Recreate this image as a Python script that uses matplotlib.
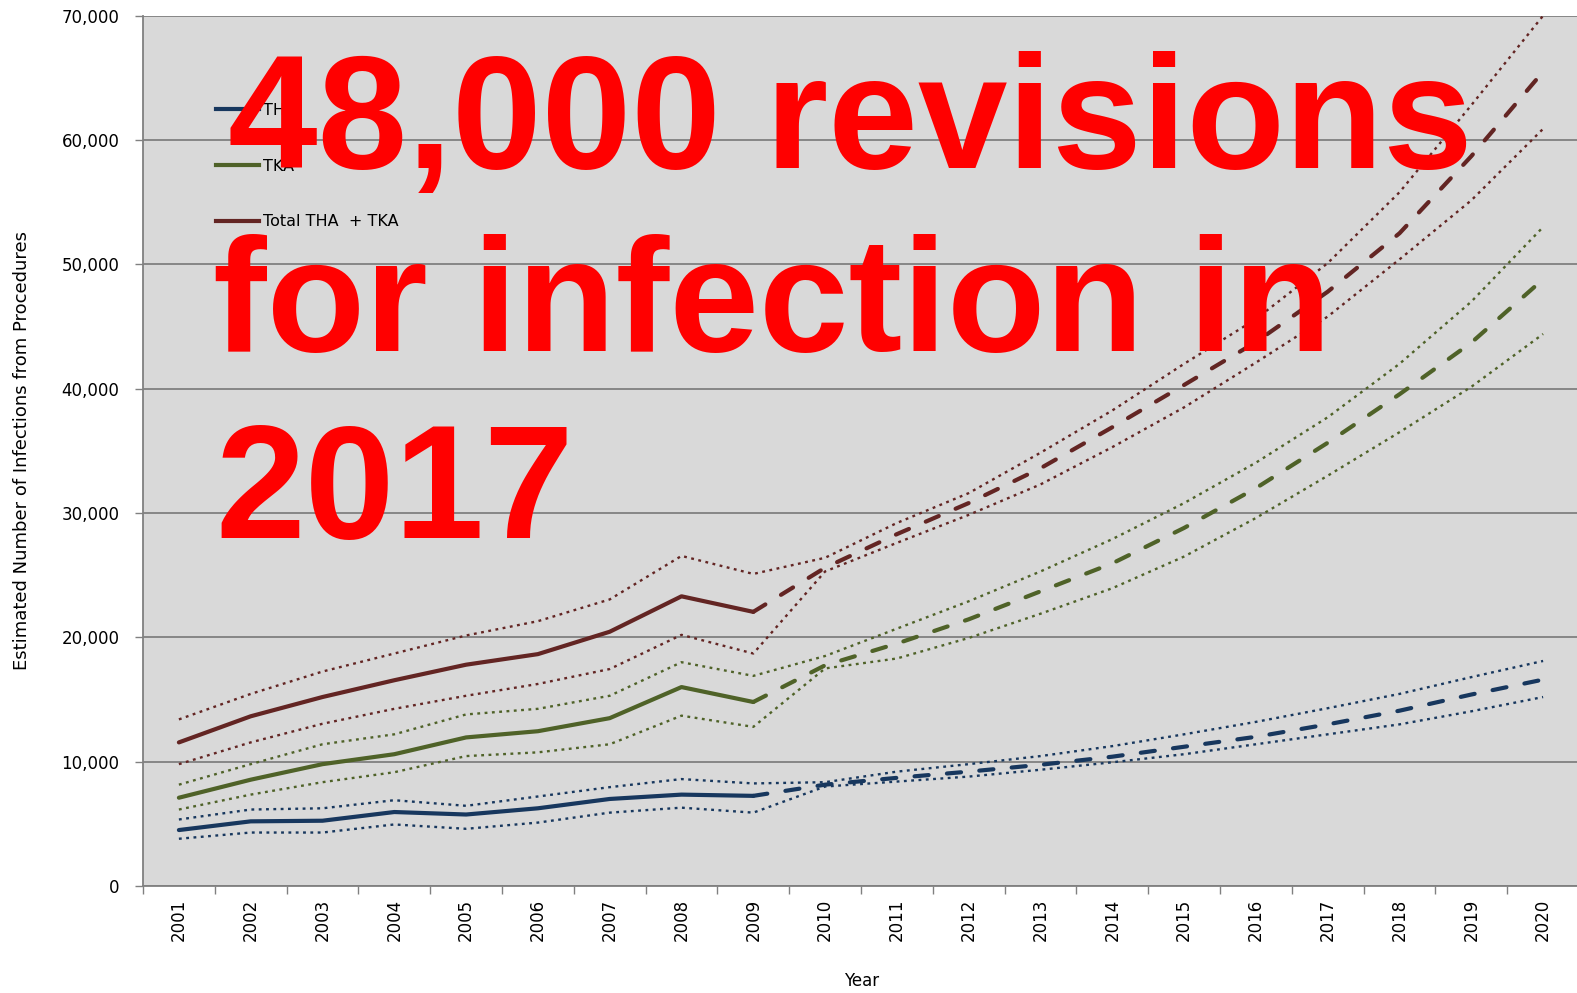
import numpy as np
import matplotlib
matplotlib.use("Agg")
import matplotlib.pyplot as plt
from matplotlib.lines import Line2D
from matplotlib.ticker import FuncFormatter

# estimated infections per year, 2001-2009 observed, 2009-2020 projected
years = [str(y) for y in range(2001, 2021)]

tha_obs = [4500, 5200, 5250, 5950, 5750, 6250, 7000, 7350, 7250]
tha_proj = [7250, 8150, 8700, 9200, 9750, 10400, 11200, 12000, 13000, 14100, 15400, 16600]
tha_hi = [5350, 6150, 6250, 6900, 6450, 7200, 7950, 8600, 8250, 8350,
          9200, 9800, 10450, 11250, 12200, 13200, 14300, 15450, 16800, 18100]
tha_lo = [3800, 4300, 4300, 4950, 4600, 5100, 5900, 6300, 5900, 8000,
          8400, 8800, 9350, 9950, 10600, 11400, 12200, 13000, 14050, 15200]

tka_obs = [7100, 8550, 9800, 10600, 11950, 12450, 13500, 16000, 14800]
tka_proj = [14800, 17750, 19500, 21450, 23700, 25950, 28800, 32000, 35650, 39550, 43700, 48800]
tka_hi = [8150, 9800, 11400, 12200, 13800, 14250, 15300, 18000, 16900, 18500,
          20700, 22900, 25300, 27900, 30800, 34050, 37700, 42000, 47000, 53000]
tka_lo = [6150, 7350, 8350, 9150, 10450, 10750, 11400, 13700, 12800, 17500,
          18300, 19950, 21900, 23950, 26500, 29600, 33000, 36500, 40150, 44400]

tot_obs = [11550, 13650, 15200, 16550, 17800, 18650, 20450, 23300, 22050]
tot_proj = [22050, 25600, 28300, 30800, 33600, 36900, 40300, 43750, 47800, 52500, 58700, 65500]
tot_hi = [13400, 15450, 17250, 18700, 20150, 21300, 23050, 26550, 25100, 26400,
          29200, 31600, 34850, 38250, 42000, 45600, 50100, 55800, 62800, 70000]
tot_lo = [9800, 11550, 13050, 14250, 15300, 16250, 17450, 20200, 18700, 25300,
          27600, 29850, 32300, 35300, 38500, 42100, 45800, 50400, 55150, 60900]

labels = ["THA", "TKA", "Total THA  + TKA"]
colors = ["#17375E", "#4F6228", "#632523"]

W, H = 1577, 993
fig = plt.figure(figsize=(W / 100, H / 100), dpi=100)
fig.patch.set_facecolor("white")
ax = fig.add_axes([143 / W, 1 - 886 / H, (1579 - 143) / W, (886 - 15.7) / H])
ax.set_facecolor("#D9D9D9")

x = np.arange(len(years))
n_obs = len(tha_obs)
groups = [(tha_obs, tha_proj, tha_hi, tha_lo),
          (tka_obs, tka_proj, tka_hi, tka_lo),
          (tot_obs, tot_proj, tot_hi, tot_lo)]

for (obs, proj, hi, lo), c in zip(groups, colors):
    for band in (hi, lo):
        ax.plot(x, band, color=c, lw=1.7, linestyle=(0, (1.2, 1.9)), zorder=3)
    ax.plot(x[:n_obs], obs, color=c, lw=3.0, solid_capstyle="round", zorder=4)
    ax.plot(x[n_obs - 1:], proj, color=c, lw=3.0, linestyle=(0, (3.4, 4.4)),
            dash_capstyle="round", zorder=4)

ax.set_xlim(-0.5, len(years) - 0.5)
ax.set_ylim(0, 70000)
ax.set_yticks(np.arange(0, 70001, 10000))
ax.yaxis.set_major_formatter(FuncFormatter(lambda v, p: f"{int(v):,}"))
ax.grid(axis="y", color="#808080", lw=1.3, zorder=1)
ax.set_axisbelow(True)

ax.set_xticks(x)
ax.set_xticklabels(years, rotation=90, fontsize=12, family="DejaVu Sans")
ax.set_xticks(np.arange(-0.5, len(years)), minor=True)
ax.tick_params(axis="x", which="major", length=0, pad=9)
ax.tick_params(axis="x", which="minor", length=6, color="#808080", width=1)
ax.tick_params(axis="y", length=6, color="#808080", width=1, pad=11, labelsize=12)

for s in ["top", "right"]:
    ax.spines[s].set_visible(False)
for s in ["left", "bottom"]:
    ax.spines[s].set_color("#808080")
    ax.spines[s].set_linewidth(1.3)

fig.text(21.7 / W, 1 - 450 / H, "Estimated Number of Infections from Procedures",
         rotation=90, ha="center", va="center", fontsize=13)
fig.text(862 / W, 1 - 981 / H, "Year", ha="center", va="center", fontsize=12)

handles = [Line2D([0], [0], color=c, lw=3.0) for c in colors]
ax.legend(handles, labels, loc="upper left", bbox_to_anchor=(216 / W, 1 - 103 / H),
          bbox_transform=fig.transFigure, frameon=False, fontsize=11.5,
          labelspacing=2.55, handlelength=2.7, handletextpad=0.25,
          borderpad=0, borderaxespad=0)

# big red headline over the plot
red = dict(color="#FF0000", fontsize=116, fontweight="bold",
           family=["Liberation Sans", "DejaVu Sans"], va="baseline", ha="left")
fig.text(228 / W, 1 - 168 / H, "48,000 revisions", **red)
fig.text(213 / W, 1 - 351 / H, "for infection in", **red)
fig.text(215 / W, 1 - 538 / H, "2017", **red)

fig.savefig("out.png", dpi=100)
